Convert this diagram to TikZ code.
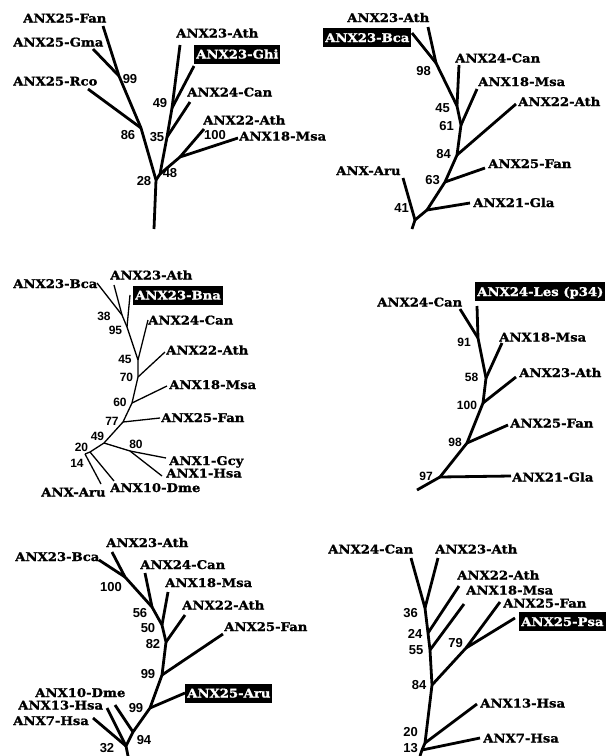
\documentclass[tikz,border=0pt]{standalone}
\usepackage{fontspec}
\usepackage{tikz}

\newfontfamily\taxonfont{DejaVu Serif}[FakeStretch=1.1, FakeBold=1.2]
\newfontfamily\supportfont{Liberation Sans}

\begin{document}
\begin{tikzpicture}[x=1pt, y=-1pt,
	branch/.style={line width=2.8pt, line join=round},
	thin branch/.style={line width=1.3pt, line join=round},
	taxon/.style={font=\taxonfont\bfseries\fontsize{12}{14}\selectfont,
		inner sep=0pt, text height=9pt, text depth=0pt, anchor=west},
	boxed taxon/.style={taxon, fill=black, text=white,
		inner xsep=2pt, inner ysep=5pt},
	support/.style={font=\supportfont\bfseries\fontsize{13}{15}\selectfont,
		inner sep=0pt},
	small support/.style={support,
		font=\supportfont\bfseries\fontsize{12}{14}\selectfont},
]
\useasboundingbox (0,0) rectangle (613,756);

% ---------------- Tree 1 (ANX23-Ghi) ----------------

% Branch points
\coordinate (t1_root) at (154,229);
\coordinate (t1_n28) at (156,180);
\coordinate (t1_n86) at (141,128);
\coordinate (t1_n99) at (119,76);
\coordinate (t1_n48) at (160,174);
\coordinate (t1_n100) at (180,157);
\coordinate (t1_n35) at (167,137);
\coordinate (t1_n49) at (172,108);

% Tips
\coordinate (t1_fan_tip) at (103,26);
\coordinate (t1_gma_tip) at (93,49);
\coordinate (t1_rco_tip) at (88,89);
\coordinate (t1_ath22_tip) at (204,129);
\coordinate (t1_msa_tip) at (238,138);
\coordinate (t1_can_tip) at (190,102);
\coordinate (t1_ghi_tip) at (194,66);
\coordinate (t1_ath23_tip) at (180,45);

% Taxa
\node [taxon] (t1_fan) at (23,18) {ANX25-Fan};
\node [taxon] (t1_gma) at (13,42) {ANX25-Gma};
\node [taxon] (t1_rco) at (13,81) {ANX25-Rco};
\node [taxon] (t1_ath23) at (176,33) {ANX23-Ath};
\node [boxed taxon] (t1_ghi) at (194,54) {ANX23-Ghi};
\node [taxon] (t1_can) at (187,92) {ANX24-Can};
\node [taxon] (t1_ath22) at (203,120) {ANX22-Ath};
\node [taxon] (t1_msa) at (239,136) {ANX18-Msa};

% Branches
\draw [branch] (t1_root) -- (t1_n28) -- (t1_n86) -- (t1_n99) -- (t1_fan_tip);
\draw [branch] (t1_gma_tip) -- (t1_n99);
\draw [branch] (t1_rco_tip) -- (t1_n86);
\draw [branch] (t1_n28) -- (t1_n48) -- (t1_n35) -- (t1_n49) -- (t1_ath23_tip);
\draw [branch] (t1_n48) -- (t1_n100) -- (t1_ath22_tip);
\draw [branch] (t1_n100) -- (t1_msa_tip);
\draw [branch] (t1_n35) -- (t1_can_tip);
\draw [branch] (t1_n49) -- (t1_ghi_tip);

% Support values
\node [support] (t1_s99) at (130,79) {99};
\node [support] (t1_s86) at (128,135) {86};
\node [support] (t1_s28) at (144,181) {28};
\node [support] (t1_s48) at (170,173) {48};
\node [support] (t1_s35) at (157,137) {35};
\node [support] (t1_s49) at (160,103) {49};
\node [support] (t1_s100) at (215,135) {100};

% ---------------- Tree 2 (ANX23-Bca) ----------------

% Branch points
\coordinate (t2_root) at (412,229);
\coordinate (t2_n41) at (415,220);
\coordinate (t2_ngla) at (427,210);
\coordinate (t2_n63) at (445,182);
\coordinate (t2_n84) at (457,155);
\coordinate (t2_n61) at (461,125);
\coordinate (t2_n45) at (457,106);
\coordinate (t2_n98) at (436,63);

% Tips
\coordinate (t2_aru_tip) at (403,178);
\coordinate (t2_gla_tip) at (470,203);
\coordinate (t2_fan_tip) at (485,168);
\coordinate (t2_ath22_tip) at (516,104);
\coordinate (t2_msa_tip) at (477,89);
\coordinate (t2_can_tip) at (459,65);
\coordinate (t2_ath23_tip) at (428,27);
\coordinate (t2_bca_tip) at (412,33);

% Taxa
\node [taxon] (t2_ath23) at (347,17.5) {ANX23-Ath};
\node [boxed taxon] (t2_bca) at (323,37.5) {ANX23-Bca};
\node [taxon] (t2_can) at (455,58) {ANX24-Can};
\node [taxon] (t2_msa) at (478,81.5) {ANX18-Msa};
\node [taxon] (t2_ath22) at (518,101.5) {ANX22-Ath};
\node [taxon] (t2_fan) at (488,163.5) {ANX25-Fan};
\node [taxon] (t2_gla) at (473,202.5) {ANX21-Gla};
\node [taxon] (t2_aru) at (336,170.5) {ANX-Aru};

% Branches
\draw [branch] (t2_root) -- (t2_n41) -- (t2_ngla) -- (t2_n63) -- (t2_n84)
	-- (t2_n61) -- (t2_n45) -- (t2_n98) -- (t2_bca_tip);
\draw [branch] (t2_n41) -- (t2_aru_tip);
\draw [branch] (t2_ngla) -- (t2_gla_tip);
\draw [branch] (t2_n63) -- (t2_fan_tip);
\draw [branch] (t2_n84) -- (t2_ath22_tip);
\draw [branch] (t2_n61) -- (t2_msa_tip);
\draw [branch] (t2_n45) -- (t2_can_tip);
\draw [branch] (t2_n98) -- (t2_ath23_tip);

% Support values
\node [support] (t2_s98) at (423.5,71) {98};
\node [support] (t2_s45) at (442.5,108) {45};
\node [support] (t2_s61) at (446.5,126.5) {61};
\node [support] (t2_s84) at (443.5,154) {84};
\node [support] (t2_s63) at (432.5,180) {63};
\node [support] (t2_s41) at (401.5,208.5) {41};

% ---------------- Tree 3 (ANX23-Bna) ----------------

% Branch points
\coordinate (t3_n38) at (122,315);
\coordinate (t3_n95) at (127,327);
\coordinate (t3_n45) at (138,360);
\coordinate (t3_n70) at (138,377);
\coordinate (t3_n60) at (132,403);
\coordinate (t3_n77) at (123,422);
\coordinate (t3_n49) at (104,443);
\coordinate (t3_n80) at (130,451);
\coordinate (t3_n20) at (90,452);
\coordinate (t3_n14) at (85,454);

% Tips
\coordinate (t3_bca_tip) at (97,283);
\coordinate (t3_ath23_tip) at (114,285);
\coordinate (t3_bna_tip) at (130,295);
\coordinate (t3_can_tip) at (148,320);
\coordinate (t3_ath22_tip) at (165,352);
\coordinate (t3_msa_tip) at (167,386);
\coordinate (t3_fan_tip) at (160,418);
\coordinate (t3_gcy_tip) at (166,458);
\coordinate (t3_hsa_tip) at (162,476);
\coordinate (t3_dme_tip) at (114,481);
\coordinate (t3_aru_tip) at (101,484);

% Taxa
\node [taxon] (t3_bca) at (13,283.5) {ANX23-Bca};
\node [taxon] (t3_ath23) at (110,275) {ANX23-Ath};
\node [boxed taxon] (t3_bna) at (133,295) {ANX23-Bna};
\node [taxon] (t3_can) at (148,320) {ANX24-Can};
\node [taxon] (t3_ath22) at (166,350) {ANX22-Ath};
\node [taxon] (t3_msa) at (169,384.5) {ANX18-Msa};
\node [taxon] (t3_fan) at (161,417.5) {ANX25-Fan};
\node [taxon] (t3_gcy) at (169,460.5) {ANX1-Gcy};
\node [taxon] (t3_hsa) at (166,473) {ANX1-Hsa};
\node [taxon] (t3_dme) at (110,487.5) {ANX10-Dme};
\node [taxon] (t3_aru) at (41,492) {ANX-Aru};

% Branches
\draw [thin branch] (t3_bca_tip) -- (t3_n38) -- (t3_n95) -- (t3_n45) -- (t3_n70)
	-- (t3_n60) -- (t3_n77) -- (t3_n49) -- (t3_n20) -- (t3_n14);
\draw [thin branch] (t3_ath23_tip) -- (t3_n38);
\draw [thin branch] (t3_bna_tip) -- (t3_n95);
\draw [thin branch] (t3_can_tip) -- (t3_n45);
\draw [thin branch] (t3_ath22_tip) -- (t3_n70);
\draw [thin branch] (t3_msa_tip) -- (t3_n60);
\draw [thin branch] (t3_fan_tip) -- (t3_n77);
\draw [thin branch] (t3_n49) -- (t3_n80) -- (t3_gcy_tip);
\draw [thin branch] (t3_n80) -- (t3_hsa_tip);
\draw [thin branch] (t3_n20) -- (t3_dme_tip);
\draw [thin branch] (t3_n14) -- (t3_aru_tip);

% Support values
\node [small support] (t3_s38) at (104,316.5) {38};
\node [small support] (t3_s95) at (115.5,330.5) {95};
\node [small support] (t3_s45) at (125,359.5) {45};
\node [small support] (t3_s70) at (126.5,377) {70};
\node [small support] (t3_s60) at (120,402) {60};
\node [small support] (t3_s77) at (112,421.5) {77};
\node [small support] (t3_s49) at (97.5,436) {49};
\node [small support] (t3_s20) at (81.5,447.5) {20};
\node [small support] (t3_s14) at (77,463) {14};
\node [small support] (t3_s80) at (136,444) {80};

% ---------------- Tree 4 (ANX24-Les) ----------------

% Branch points
\coordinate (t4_root) at (417,490);
\coordinate (t4_n97) at (440,477);
\coordinate (t4_n98) at (467,443);
\coordinate (t4_n100) at (483,403);
\coordinate (t4_n58) at (486,378);
\coordinate (t4_n91) at (478,338);

% Tips
\coordinate (t4_can_tip) at (460,309);
\coordinate (t4_les_tip) at (477,306);
\coordinate (t4_msa_tip) at (502,343);
\coordinate (t4_ath_tip) at (516,377);
\coordinate (t4_fan_tip) at (508,425);
\coordinate (t4_gla_tip) at (511,476);

% Taxa
\node [taxon] (t4_can) at (377,302) {ANX24-Can};
\node [boxed taxon] (t4_les) at (475,291.5) {ANX24-Les (p34)};
\node [taxon] (t4_msa) at (499,337) {ANX18-Msa};
\node [taxon] (t4_ath) at (519,372.5) {ANX23-Ath};
\node [taxon] (t4_fan) at (510,423) {ANX25-Fan};
\node [taxon] (t4_gla) at (512,477) {ANX21-Gla};

% Branches
\draw [branch] (t4_root) -- (t4_n97) -- (t4_n98) -- (t4_n100) -- (t4_n58)
	-- (t4_n91) -- (t4_les_tip);
\draw [branch] (t4_can_tip) -- (t4_n91);
\draw [branch] (t4_n58) -- (t4_msa_tip);
\draw [branch] (t4_n100) -- (t4_ath_tip);
\draw [branch] (t4_n98) -- (t4_fan_tip);
\draw [branch] (t4_n97) -- (t4_gla_tip);

% Support values
\node [small support] (t4_s91) at (464,342) {91};
\node [small support] (t4_s58) at (471.5,377) {58};
\node [small support] (t4_s100) at (467,405.5) {100};
\node [small support] (t4_s98) at (455,442) {98};
\node [small support] (t4_s97) at (426,476) {97};

% ---------------- Tree 5 (ANX25-Aru) ----------------

% Branch points
\coordinate (t5_root) at (128,756);
\coordinate (t5_n32) at (126,746);
\coordinate (t5_n94) at (133,732);
\coordinate (t5_n99b) at (150,708);
\coordinate (t5_n99) at (162,675);
\coordinate (t5_n82) at (166,642);
\coordinate (t5_n50) at (162,625);
\coordinate (t5_n56) at (152,607);
\coordinate (t5_n100) at (125,577);

% Tips
\coordinate (t5_bca_tip) at (99,560);
\coordinate (t5_ath23_tip) at (112,552);
\coordinate (t5_can_tip) at (145,573);
\coordinate (t5_msa_tip) at (168,592);
\coordinate (t5_ath22_tip) at (185,615);
\coordinate (t5_fan_tip) at (223,634);
\coordinate (t5_aru_tip) at (185,693);
\coordinate (t5_dme_tip) at (115,705);
\coordinate (t5_hsa13_tip) at (107,708);
\coordinate (t5_hsa7_tip) at (93,718);

% Taxa
\node [taxon] (t5_bca) at (15,556.5) {ANX23-Bca};
\node [taxon] (t5_ath23) at (106,542.5) {ANX23-Ath};
\node [taxon] (t5_can) at (140,564.5) {ANX24-Can};
\node [taxon] (t5_msa) at (165,582.5) {ANX18-Msa};
\node [taxon] (t5_ath22) at (182,605) {ANX22-Ath};
\node [taxon] (t5_fan) at (224,626.5) {ANX25-Fan};
\node [boxed taxon] (t5_aru) at (185,693) {ANX25-Aru};
\node [taxon] (t5_dme) at (35,692.5) {ANX10-Dme};
\node [taxon] (t5_hsa13) at (18,705) {ANX13-Hsa};
\node [taxon] (t5_hsa7) at (13,720.5) {ANX7-Hsa};

% Branches
\draw [branch] (t5_root) -- (t5_n32) -- (t5_n94) -- (t5_n99b) -- (t5_n99)
	-- (t5_n82) -- (t5_n50) -- (t5_n56) -- (t5_n100) -- (t5_bca_tip);
\draw [branch] (t5_ath23_tip) -- (t5_n100);
\draw [branch] (t5_can_tip) -- (t5_n56);
\draw [branch] (t5_msa_tip) -- (t5_n50);
\draw [branch] (t5_ath22_tip) -- (t5_n82);
\draw [branch] (t5_n99) -- (t5_fan_tip);
\draw [branch] (t5_n99b) -- (t5_aru_tip);
\draw [branch] (t5_dme_tip) -- (t5_n94);
\draw [branch] (t5_hsa13_tip) -- (t5_n32);
\draw [branch] (t5_hsa7_tip) -- (t5_n32);

% Support values
\node [support] (t5_s100) at (111,587) {100};
\node [support] (t5_s56) at (140,613) {56};
\node [support] (t5_s50) at (148,628) {50};
\node [support] (t5_s82) at (153,644) {82};
\node [support] (t5_s99) at (148,674) {99};
\node [support] (t5_s99b) at (136,708) {99};
\node [support] (t5_s94) at (144,740) {94};
\node [support] (t5_s32) at (107,748) {32};

% ---------------- Tree 6 (ANX25-Psa) ----------------

% Branch points
\coordinate (t6_root) at (420,756);
\coordinate (t6_n13) at (422,750);
\coordinate (t6_n20) at (425,743);
\coordinate (t6_n84) at (432,685);
\coordinate (t6_n55) at (430,650);
\coordinate (t6_n24) at (428,633);
\coordinate (t6_n36) at (425,608);
\coordinate (t6_n79) at (466,648);

% Tips
\coordinate (t6_can_tip) at (411,558);
\coordinate (t6_ath23_tip) at (438,558);
\coordinate (t6_ath22_tip) at (459,586);
\coordinate (t6_msa_tip) at (464,604);
\coordinate (t6_fan_tip) at (500,602);
\coordinate (t6_psa_tip) at (515,618);
\coordinate (t6_hsa13_tip) at (477,704);
\coordinate (t6_hsa7_tip) at (480,738);

% Taxa
\node [taxon] (t6_can) at (328,549) {ANX24-Can};
\node [taxon] (t6_ath23) at (435,549) {ANX23-Ath};
\node [taxon] (t6_ath22) at (457,575) {ANX22-Ath};
\node [taxon] (t6_msa) at (466,590) {ANX18-Msa};
\node [taxon] (t6_fan) at (503,603) {ANX25-Fan};
\node [boxed taxon] (t6_psa) at (519,621.5) {ANX25-Psa};
\node [taxon] (t6_hsa13) at (480,703) {ANX13-Hsa};
\node [taxon] (t6_hsa7) at (483,738) {ANX7-Hsa};

% Branches
\draw [branch] (t6_root) -- (t6_n13) -- (t6_n20) -- (t6_n84) -- (t6_n55)
	-- (t6_n24) -- (t6_n36) -- (t6_can_tip);
\draw [branch] (t6_ath23_tip) -- (t6_n36);
\draw [branch] (t6_ath22_tip) -- (t6_n24);
\draw [branch] (t6_msa_tip) -- (t6_n55);
\draw [branch] (t6_n84) -- (t6_n79) -- (t6_fan_tip);
\draw [branch] (t6_n79) -- (t6_psa_tip);
\draw [branch] (t6_n20) -- (t6_hsa13_tip);
\draw [branch] (t6_n13) -- (t6_hsa7_tip);

% Support values
\node [support] (t6_s36) at (410.5,613.5) {36};
\node [support] (t6_s24) at (415,633.5) {24};
\node [support] (t6_s55) at (416,650.5) {55};
\node [support] (t6_s79) at (455.5,643) {79};
\node [support] (t6_s84) at (419,685.5) {84};
\node [support] (t6_s20) at (410.5,732) {20};
\node [support] (t6_s13) at (410.5,748) {13};

\end{tikzpicture}
\end{document}
